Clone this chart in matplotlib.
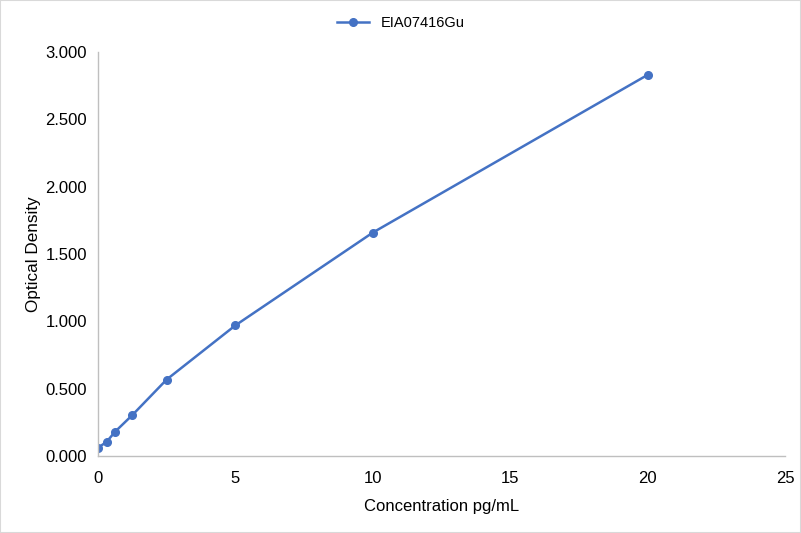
import matplotlib.pyplot as plt
from matplotlib.patches import Rectangle

plt.rcParams['font.family'] = ['Liberation Sans', 'DejaVu Sans']

# standard curve data
conc = [0, 0.3125, 0.625, 1.25, 2.5, 5, 10, 20]
od = [0.061, 0.105, 0.181, 0.304, 0.568, 0.970, 1.659, 2.830]
series_name = 'EIA07416Gu'

W, H = 801, 533
fig = plt.figure(figsize=(W / 100, H / 100), dpi=100)
ax = fig.add_axes([98 / W, 1 - 456 / H, (785 - 98) / W, (456 - 52) / H])

color = '#4472C4'
ax.plot(conc, od, color=color, marker='o', markersize=5.5, linewidth=1.8, label=series_name)

ax.set_xlim(0, 25)
ax.set_ylim(0, 3)
ax.set_xticks(range(0, 26, 5))
ax.set_yticks([0, 0.5, 1, 1.5, 2, 2.5, 3])
ax.set_yticklabels(['%.3f' % v for v in ax.get_yticks()])
ax.tick_params(length=0, labelsize=12, labelcolor='black')
ax.tick_params(axis='x', pad=11)
ax.tick_params(axis='y', pad=8)

for s in ['top', 'right']:
    ax.spines[s].set_visible(False)
for s in ['left', 'bottom']:
    ax.spines[s].set_color('#BFBFBF')
    ax.spines[s].set_linewidth(1)

ax.set_xlabel('Concentration pg/mL', fontsize=12, labelpad=9)
ax.set_ylabel('Optical Density', fontsize=12.3, labelpad=3)

fig.legend(loc='upper center', bbox_to_anchor=(0.5, 1.0), frameon=False,
           fontsize=10.5, handlelength=2.2, borderaxespad=0.7)

fig.patches.append(Rectangle((0, 0), 1, 1, transform=fig.transFigure, fill=False,
                             edgecolor='#D9D9D9', linewidth=1.5))

fig.savefig('out.png', dpi=100)
